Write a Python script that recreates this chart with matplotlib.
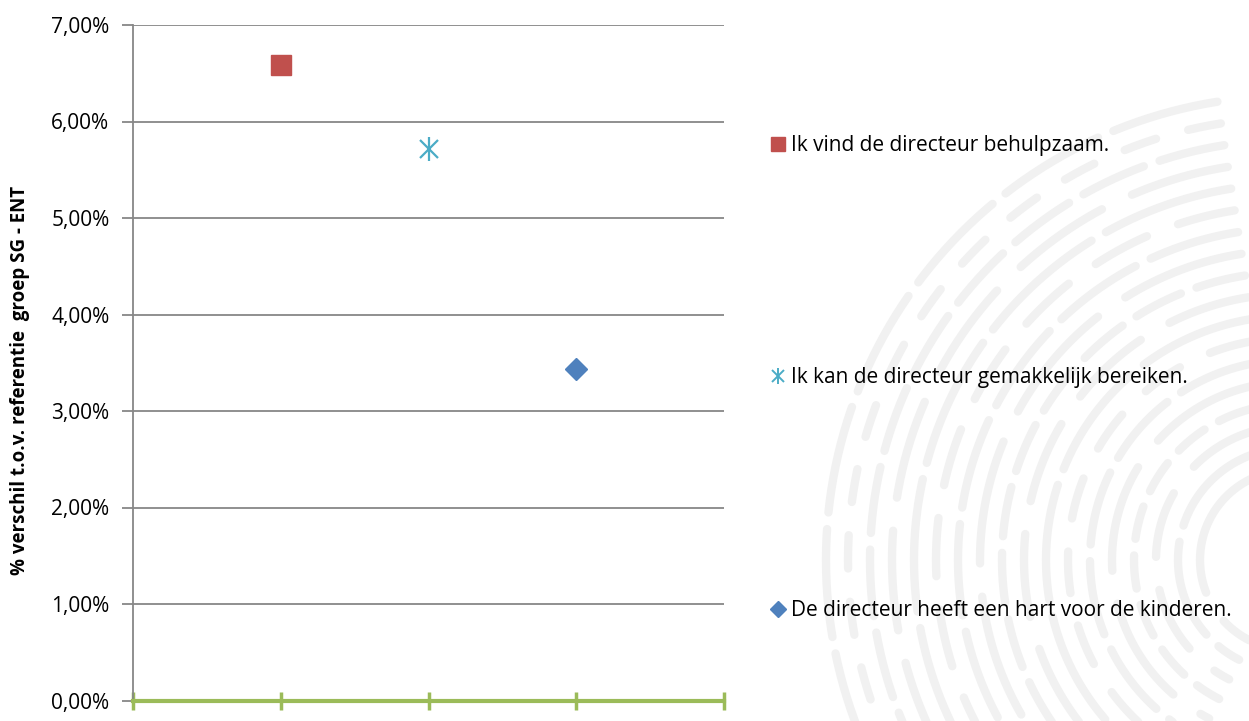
import numpy as np
import matplotlib.pyplot as plt
from matplotlib.lines import Line2D
from matplotlib.legend_handler import HandlerTuple
from matplotlib.ticker import FuncFormatter

# data
series = ['Ik vind de directeur behulpzaam.',
          'Ik kan de directeur gemakkelijk bereiken.',
          'De directeur heeft een hart voor de kinderen.']
x_pos = [1, 2, 3]
values = [6.59, 5.71, 3.44]
colors = ['#C0504D', '#4BACC6', '#4F81BD']
y_label = '% verschil t.o.v. referentie  groep SG - ENT'

plt.rcParams['font.family'] = ['Open Sans', 'DejaVu Sans']

fig = plt.figure(figsize=(12.49, 7.21), dpi=100)

# faint fingerprint-like watermark on the right
bg = fig.add_axes([0, 0, 1, 1], zorder=-10)
bg.set_xlim(0, 1249)
bg.set_ylim(721, 0)
bg.axis('off')
cx, cy = 1290, 560
for r in np.arange(90, 470, 22):
    t = np.linspace(np.pi * 0.55, np.pi * 1.35, 300)
    bg.plot(cx + r * np.cos(t), cy - r * np.sin(t), color='#F1F1F1',
            lw=6, dashes=(4 + r % 13, 2 + r % 4), solid_capstyle='round',
            dash_capstyle='round')

ax = fig.add_axes([133 / 1249, 1 - 700.5 / 721, (724 - 133) / 1249, (700.5 - 25) / 721])
ax.patch.set_alpha(0)

ax.set_xlim(0, 4)
ax.set_ylim(0, 7)
ax.set_yticks(np.arange(0, 8, 1))
ax.yaxis.set_major_formatter(FuncFormatter(lambda v, p: f'{v:.2f}%'.replace('.', ',')))
ax.set_xticks([0, 1, 2, 3, 4])
ax.set_xticklabels([])

ax.grid(axis='y', color='#878787', linewidth=1.3)
ax.set_axisbelow(True)
for s in ['top', 'right']:
    ax.spines[s].set_visible(False)
ax.spines['left'].set_color('#878787')
ax.spines['left'].set_linewidth(1.3)
ax.spines['bottom'].set_color('#9BBB59')
ax.spines['bottom'].set_linewidth(3)
ax.spines['bottom'].set_zorder(5)
ax.tick_params(axis='y', color='#878787', width=1.3, length=8, labelsize=15, pad=9)
ax.tick_params(axis='x', color='#9BBB59', width=2.5, length=13, direction='inout')

# points
ax.plot(x_pos[0], values[0], marker='s', ms=14, color=colors[0], ls='none', zorder=6)
ax.plot(x_pos[1], values[1], marker='x', ms=13, mew=1.6, color=colors[1], ls='none', zorder=6)
ax.plot(x_pos[1], values[1], marker='|', ms=17, mew=1.6, color=colors[1], ls='none', zorder=6)
ax.plot(x_pos[2], values[2], marker='D', ms=11, color=colors[2], ls='none', zorder=6)

ax.set_ylabel(y_label, fontsize=13.5, fontweight='bold')
ax.yaxis.set_label_coords(-0.175, 0.474)

h1 = Line2D([], [], marker='s', ms=10, color=colors[0], ls='none')
h2 = (Line2D([], [], marker='x', ms=9, mew=1.4, color=colors[1], ls='none'),
      Line2D([], [], marker='|', ms=12, mew=1.4, color=colors[1], ls='none'))
h3 = Line2D([], [], marker='D', ms=8, color=colors[2], ls='none')
fig.legend([h1, h2, h3], series, loc='upper left',
           bbox_to_anchor=(771 / 1249, 1 - 135 / 721), frameon=False,
           fontsize=15, labelspacing=10.15, handlelength=0.7, handletextpad=0.26,
           borderpad=0, borderaxespad=0,
           handler_map={tuple: HandlerTuple(ndivide=1, pad=0)})

fig.savefig('out.png', dpi=100)
